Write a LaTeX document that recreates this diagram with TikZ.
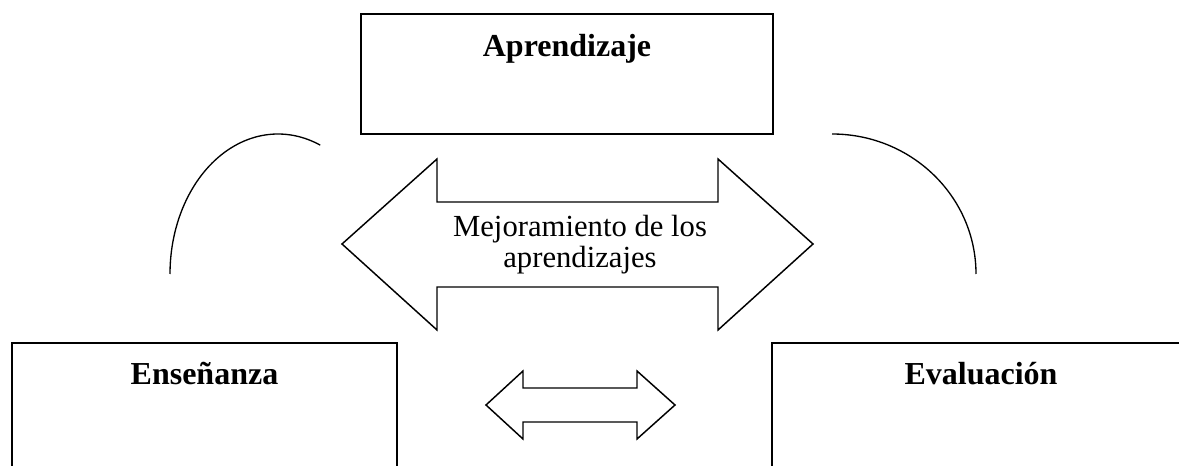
\documentclass[tikz,border=0pt]{standalone}
\usepackage{fontspec}
\setmainfont{Liberation Serif}
\tikzstyle{box}=[draw=black,line width=1.5pt,inner sep=0pt]
\tikzstyle{box title}=[font=\bfseries\fontsize{24}{28}\selectfont,anchor=base,inner sep=0pt]
\tikzstyle{cycle arc}=[draw=black,line width=1pt]
\tikzstyle{fat arrow}=[draw=black,line width=1.1pt,fill=white]

\begin{document}
\begin{tikzpicture}[x=0.75pt,y=-0.75pt]

            \def\px{0.75pt} % one pixel of the sketch
            \path[use as bounding box] (0,0) rectangle (1179,466);
            \clip (0,0) rectangle (1179,466);

            % BOXES
            \node[box,minimum width=412*\px,minimum height=120*\px] (aprendizaje) at (567,74) {};
            \node[box,minimum width=385*\px,minimum height=160*\px] (ensenanza) at (204.5,423) {};
            \node[box,minimum width=418*\px,minimum height=160*\px] (evaluacion) at (981,423) {};
            \node[box title] (t aprendizaje) at (567,57) {Aprendizaje};
            \node[box title] (t ensenanza) at (204.5,385) {Enseñanza};
            \node[box title] (t evaluacion) at (981,385) {Evaluación};

            % ARCS
            \coordinate (A1) at (170,274);
            \coordinate (A2) at (832,134);
            \draw[cycle arc] (A1) arc[start angle=-180,end angle=-67,x radius=108,y radius=140];
            \draw[cycle arc] (A2) arc[start angle=-90,end angle=0,x radius=144,y radius=140];

            % BIG ARROW
            \draw[fat arrow] (342,244) -- (437,159) -- (437,202) -- (718,202) -- (718,159)
              -- (813,244) -- (718,330) -- (718,287) -- (437,287) -- (437,330) -- cycle;
            \node[font=\fontsize{23}{23.25}\selectfont,align=center] (mejora) at (580,245)
              {Mejoramiento de los\\aprendizajes};

            % SMALL ARROW
            \draw[fat arrow] (486,405) -- (523,371) -- (523,388) -- (637,388) -- (637,371)
              -- (675,405) -- (637,439) -- (637,422) -- (523,422) -- (523,439) -- cycle;

\end{tikzpicture}
\end{document}
